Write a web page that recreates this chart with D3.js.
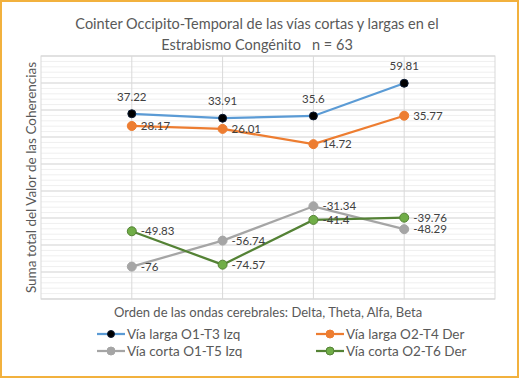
<!DOCTYPE html>
<html>
<head>
<meta charset="utf-8">
<script src="https://cdn.jsdelivr.net/npm/d3@7"></script>
<style>
  body { margin: 0; background: #fff; }
  text { font-family: Lato, "Open Sans", sans-serif; }
</style>
</head>
<body>
<div id="chart-area"></div>
<script>

// data
let categories = ["Delta", "Theta", "Alfa", "Beta"];
let seriesNames = ["Vía larga O1-T3 Izq", "Vía larga O2-T4 Der", "Vía corta O1-T5 Izq", "Vía corta O2-T6 Der"];
let largaIzq = [37.22, 33.91, 35.6, 59.81];
let largaDer = [28.17, 26.01, 14.72, 35.77];
let cortaIzq = [-76, -56.74, -31.34, -48.29];
let cortaDer = [-49.83, -74.57, -41.4, -39.76];

let W = 519, H = 378;
let margin = {top: 56, right: 24, bottom: 79, left: 41};
let width = W - margin.left - margin.right,
    height = H - margin.top - margin.bottom;

let svg = d3.select("#chart-area").append("svg")
    .attr("width", W)
    .attr("height", H);

// orange frame
svg.append("rect")
    .attr("x", 1).attr("y", 1)
    .attr("width", W - 2).attr("height", H - 2)
    .attr("fill", "none")
    .attr("stroke", "#F2B13D")
    .attr("stroke-width", 2);

let g = svg.append("g")
    .attr("transform", "translate(" + margin.left + "," + margin.top + ")");

// scales
let x = d3.scaleLinear().domain([0, categories.length + 1]).range([0, width]);
let y = d3.scaleLinear().domain([-100, 80]).range([height, 0]);

// minor grid
g.append("g")
    .selectAll("line")
    .data(d3.range(-100, 81, 4))
    .enter().append("line")
    .attr("x1", 0).attr("x2", width)
    .attr("y1", d => y(d)).attr("y2", d => y(d))
    .attr("stroke", "#EFEFEF")
    .attr("stroke-width", 1);

// major grid
g.append("g")
    .selectAll("line")
    .data(y.ticks(9))
    .enter().append("line")
    .attr("x1", 0).attr("x2", width)
    .attr("y1", d => y(d)).attr("y2", d => y(d))
    .attr("stroke", "#D9D9D9")
    .attr("stroke-width", 1);

// vertical grid
g.append("g")
    .selectAll("line")
    .data(categories)
    .enter().append("line")
    .attr("x1", (d, i) => x(i + 1)).attr("x2", (d, i) => x(i + 1))
    .attr("y1", 0).attr("y2", height)
    .attr("stroke", "#D9D9D9")
    .attr("stroke-width", 1);

// plot box
g.append("rect")
    .attr("width", width).attr("height", height)
    .attr("fill", "none")
    .attr("stroke", "#D9D9D9");

let series = [
    {name: seriesNames[0], values: largaIzq, line: "#5B9BD5", fill: "#000000", stroke: "#0B1A33", r: 4, pos: "top"},
    {name: seriesNames[1], values: largaDer, line: "#ED7D31", fill: "#ED7D31", stroke: "#ED7D31", r: 4.5, pos: "right"},
    {name: seriesNames[2], values: cortaIzq, line: "#A5A5A5", fill: "#A5A5A5", stroke: "#A5A5A5", r: 4.5, pos: "right"},
    {name: seriesNames[3], values: cortaDer, line: "#548235", fill: "#70AD47", stroke: "#548235", r: 4.5, pos: "right"}
];

let line = d3.line()
    .x((d, i) => x(i + 1))
    .y(d => y(d));

series.forEach(function(s) {
    g.append("path")
        .datum(s.values)
        .attr("d", line)
        .attr("fill", "none")
        .attr("stroke", s.line)
        .attr("stroke-width", 2.25);
});

series.forEach(function(s) {
    g.selectAll(null)
        .data(s.values)
        .enter().append("circle")
        .attr("cx", (d, i) => x(i + 1))
        .attr("cy", d => y(d))
        .attr("r", s.r)
        .attr("fill", s.fill)
        .attr("stroke", s.stroke)
        .attr("stroke-width", 1);
});

// data labels
series.forEach(function(s) {
    g.selectAll(null)
        .data(s.values)
        .enter().append("text")
        .attr("x", (d, i) => s.pos == "top" ? x(i + 1) : x(i + 1) + 9)
        .attr("y", d => s.pos == "top" ? y(d) - 13 : y(d) + 4)
        .attr("text-anchor", s.pos == "top" ? "middle" : "start")
        .attr("font-size", 11.5)
        .attr("fill", "#404040")
        .text(d => d);
});

// title
let title = svg.append("text")
    .attr("x", 257)
    .attr("text-anchor", "middle")
    .attr("font-size", 14.5)
    .attr("fill", "#595959")
    .style("white-space", "pre");
title.append("tspan").attr("x", 257).attr("y", 29)
    .text("Cointer Occipito-Temporal de las vías cortas y largas en el");
title.append("tspan").attr("x", 257).attr("y", 50)
    .text("Estrabismo Congénito\u00A0\u00A0\u00A0n = 63");

// axis titles
svg.append("text")
    .attr("transform", "translate(36," + (margin.top + height / 2) + ") rotate(-90)")
    .attr("text-anchor", "middle")
    .attr("font-size", 13.5)
    .attr("fill", "#595959")
    .text("Suma total del Valor de las Coherencias");

svg.append("text")
    .attr("x", 268)
    .attr("y", 317)
    .attr("text-anchor", "middle")
    .attr("font-size", 13)
    .attr("fill", "#595959")
    .text("Orden de las ondas cerebrales: Delta, Theta, Alfa, Beta");

// legend
let legX = [97, 316], legY = [334, 351];
let legend = svg.selectAll(".legend")
    .data(series)
    .enter().append("g")
    .attr("class", "legend")
    .attr("transform", (d, i) => "translate(" + legX[i % 2] + "," + legY[Math.floor(i / 2)] + ")");

legend.append("line")
    .attr("x1", 0).attr("x2", 28)
    .attr("stroke", d => d.line)
    .attr("stroke-width", 2.25);

legend.append("circle")
    .attr("cx", 14)
    .attr("r", d => d.r - 0.5)
    .attr("fill", d => d.fill)
    .attr("stroke", d => d.stroke);

legend.append("text")
    .attr("x", 30)
    .attr("y", 4.5)
    .attr("font-size", 13.5)
    .attr("fill", "#595959")
    .text(d => d.name);

</script>
</body>
</html>
